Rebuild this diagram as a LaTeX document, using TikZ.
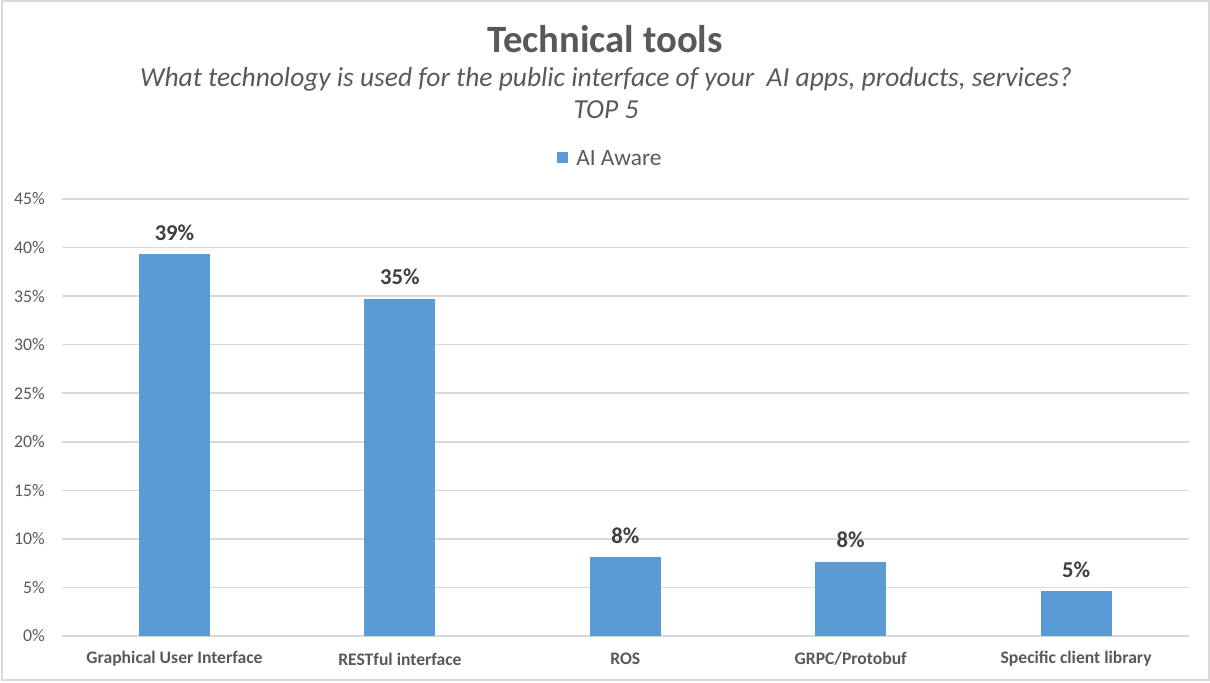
\documentclass[tikz,border=0pt]{standalone}
\usepackage{fontspec}
\setmainfont{Carlito}
\definecolor{barblue}{HTML}{5B9BD5}
\definecolor{gridgray}{HTML}{D9D9D9}
\definecolor{txtgray}{HTML}{595959}
\definecolor{lblgray}{HTML}{404040}
\tikzset{
  grid line/.style={draw=gridgray, line width=1.1pt},
  bar/.style={fill=barblue},
  tick label/.style={text=txtgray, font=\fontsize{13.3}{15}\selectfont, anchor=east, inner sep=0pt},
  cat label/.style={text=txtgray, font=\bfseries\fontsize{13.2}{15}\selectfont, inner sep=0pt},
  data label/.style={text=lblgray, font=\bfseries\fontsize{17}{20}\selectfont, inner sep=0pt},
  sub label/.style={text=txtgray, font=\itshape\fontsize{20.6}{24}\selectfont, inner sep=0pt},
}
\begin{document}
\begin{tikzpicture}[x=0.75pt,y=-0.75pt]
\useasboundingbox (0,0) rectangle (1210,682);
\fill[white] (0,0) rectangle (1210,682);
\draw[draw=gridgray, line width=1.5pt] (2,1) rectangle (1209,680);
% title
\node[text=txtgray, font=\bfseries\fontsize{29}{34}\selectfont, inner sep=0pt] (title) at (605,39) {Technical tools};
\node[sub label] (sub1) at (606,79) {What technology is used for the public interface of your\ \ AI apps, products, services?};
\node[sub label] (sub2) at (606,110) {TOP 5};
% legend
\fill[barblue] (557,152) rectangle (568,163);
\node[text=txtgray, font=\fontsize{17.5}{21}\selectfont, anchor=west, inner sep=0pt] (legend) at (576,158) {AI Aware};
% grid and ticks
\foreach \k in {0,5,...,45} {
  \draw[grid line] (62,{636-\k*9.711}) -- (1189,{636-\k*9.711});
  \node[tick label] (tick\k) at (45,{636-\k*9.711}) {\k\%};
}
% bars
\foreach \i/\v/\lab/\cat in {0/39.3/39\%/{Graphical User Interface},1/34.7/35\%/{RESTful interface},2/8.1/8\%/{ROS},3/7.6/8\%/{GRPC/Protobuf},4/4.6/5\%/{Specific client library}} {
  \pgfmathsetmacro{\cx}{174.5+225.4*\i}
  \pgfmathsetmacro{\ty}{636-\v*9.711}
  \fill[bar] ({\cx-35.5},636) rectangle ({\cx+35.5},\ty);
  \node[data label] (val\i) at (\cx,{\ty-22}) {\lab};
  \node[cat label] (cat\i) at (\cx,659) {\cat};
}
\end{tikzpicture}
\end{document}
